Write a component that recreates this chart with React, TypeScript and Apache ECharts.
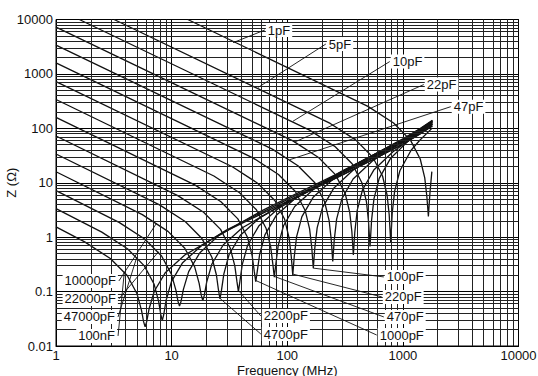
import React, { useEffect, useRef } from "react";
import * as echarts from "echarts";

type Pt = [number, number];

// axis ticks
const xTickValues = [1, 10, 100, 1000, 10000];
const yTickValues = [0.01, 0.1, 1, 10, 100, 1000, 10000];
const xMinorGrid = [2, 3, 4, 5, 6, 7, 8, 9, 20, 30, 40, 50, 60, 70, 80, 90, 200, 300, 400, 500, 600, 700, 800, 900, 2000, 3000, 4000, 5000, 6000, 7000, 8000, 9000];
const yMinorGrid = [0.02, 0.03, 0.04, 0.05, 0.06, 0.07, 0.08, 0.09, 0.2, 0.3, 0.4, 0.5, 0.6, 0.7, 0.8, 0.9, 2, 3, 4, 5, 6, 7, 8, 9, 20, 30, 40, 50, 60, 70, 80, 90, 200, 300, 400, 500, 600, 700, 800, 900, 2000, 3000, 4000, 5000, 6000, 7000, 8000, 9000];

// curves: [frequency MHz, |Z| ohm]
const c100nF: Pt[] = [[1, 1.55], [1.77, 0.819], [2.95, 0.405], [4.13, 0.197], [5.02, 0.091], [5.49, 0.0453], [5.72, 0.028], [5.9, 0.0226], [6.08, 0.0277], [6.37, 0.0473], [7.08, 0.1015], [8.85, 0.225], [13, 0.471], [30, 1.32], [100, 4.56], [300, 14.0], [600, 29.1], [1000, 51.2], [1400, 78.1], [1800, 111]];
const c47000pF: Pt[] = [[1, 3.34], [2.49, 1.24], [4.15, 0.612], [5.81, 0.297], [7.06, 0.136], [7.72, 0.066], [8.05, 0.0384], [8.3, 0.0292], [8.55, 0.0379], [8.96, 0.0693], [9.96, 0.152], [12.45, 0.34], [18.3, 0.712], [30, 1.36], [100, 4.88], [300, 15.0], [600, 31.3], [1000, 55.0], [1400, 83.9], [1800, 119]];
const c22000pF: Pt[] = [[1, 7.18], [3.51, 1.87], [5.85, 0.927], [8.19, 0.45], [9.95, 0.209], [10.9, 0.105], [11.35, 0.0661], [11.7, 0.0544], [12.05, 0.0655], [12.64, 0.11], [14.04, 0.233], [17.55, 0.518], [25.7, 1.08], [60, 3.05], [100, 5.21], [300, 16.2], [600, 33.6], [1000, 59.2], [1400, 90.3], [1800, 128]];
const c10000pF: Pt[] = [[1, 15.9], [5.58, 2.6], [9.3, 1.28], [13.0, 0.624], [15.8, 0.288], [17.3, 0.142], [18.04, 0.0859], [18.6, 0.0683], [19.16, 0.085], [20.1, 0.149], [22.3, 0.321], [27.9, 0.717], [40.9, 1.49], [100, 4.44], [300, 14.0], [600, 29.3], [1000, 51.5], [1400, 78.6], [1800, 112]];
const c4700pF: Pt[] = [[1, 33.8], [7.86, 3.92], [13.1, 1.94], [18.3, 0.942], [22.3, 0.428], [24.4, 0.202], [25.4, 0.108], [26.2, 0.0733], [27.0, 0.106], [28.3, 0.212], [31.4, 0.48], [39.3, 1.08], [57.6, 2.26], [150, 7.17], [300, 15.0], [600, 31.4], [1000, 55.2], [1400, 84.2], [1800, 120]];
const c2200pF: Pt[] = [[1, 72.3], [11.3, 5.81], [18.9, 2.87], [26.5, 1.39], [32.1, 0.633], [35.2, 0.296], [36.7, 0.154], [37.8, 0.0999], [38.9, 0.151], [40.8, 0.312], [45.4, 0.709], [56.7, 1.6], [83.2, 3.34], [200, 9.77], [300, 15.3], [600, 32.1], [1000, 56.7], [1400, 86.5], [1800, 123]];
const c1000pF: Pt[] = [[1, 159], [16.0, 9.04], [26.7, 4.47], [37.4, 2.17], [45.4, 0.985], [49.7, 0.459], [51.8, 0.237], [53.4, 0.153], [55.0, 0.233], [57.7, 0.484], [64.1, 1.1], [80.1, 2.49], [117.5, 5.2], [300, 16.5], [600, 35.2], [1000, 62.3], [1400, 95.3], [1800, 136]];
const c470pF: Pt[] = [[1, 339], [23.2, 13.3], [38.7, 6.57], [54.1, 3.19], [65.7, 1.44], [71.9, 0.663], [75.0, 0.324], [77.3, 0.184], [79.6, 0.318], [83.5, 0.7], [92.8, 1.62], [116, 3.66], [170, 7.65], [300, 16.2], [600, 35.4], [1000, 63.1], [1400, 96.5], [1800, 138]];
const c220pF: Pt[] = [[1, 723], [33.5, 19.7], [55.8, 9.72], [78.1, 4.72], [94.9, 2.13], [103.8, 0.963], [108.3, 0.444], [111.6, 0.203], [114.9, 0.433], [120.5, 1.02], [133.9, 2.39], [167.4, 5.4], [245.5, 11.3], [400, 22.3], [600, 35.6], [1000, 64.2], [1400, 98.5], [1800, 141]];
const c100pF: Pt[] = [[1, 1590], [50.4, 28.7], [84, 14.2], [117.6, 6.9], [142.8, 3.1], [156.2, 1.4], [163, 0.637], [168, 0.269], [173, 0.621], [181.4, 1.48], [201.6, 3.48], [252, 7.9], [370, 17.0], [600, 33.0], [1000, 61.3], [1400, 94.9], [1800, 136]];
const c47pF: Pt[] = [[1, 3386], [74.3, 41.5], [123.8, 20.5], [173.3, 9.97], [210.4, 4.48], [230.2, 2.02], [240.1, 0.906], [247.5, 0.356], [254.9, 0.883], [267.3, 2.14], [297, 5.12], [371, 11.7], [545, 25.2], [1000, 58.1], [1400, 91.5], [1800, 132]];
const c22pF: Pt[] = [[1, 7234], [111.9, 58.8], [186.5, 29.1], [261, 14.1], [317, 6.35], [347, 2.86], [362, 1.27], [373, 0.473], [384, 1.24], [403, 3.15], [448, 7.43], [560, 17.1], [821, 37.2], [1000, 50.2], [1400, 82.5], [1800, 121]];
const c10pF: Pt[] = [[1.59, 10000], [156, 92.8], [260, 45.9], [364, 22.3], [442, 10.0], [484, 4.5], [504, 1.98], [520, 0.672], [536, 2.03], [562, 5.05], [624, 12.0], [780, 27.8], [1144, 62.0], [1400, 86.7], [1800, 131]];
const c5pF: Pt[] = [[3.18, 10000], [235.5, 123], [392.5, 60.8], [549.5, 29.5], [667, 13.3], [730, 5.95], [761.5, 2.59], [785, 0.796], [808.6, 2.75], [848, 6.93], [942, 16.6], [1178, 39.5], [1400, 60.5], [1800, 102]];
const c1pF: Pt[] = [[13.8, 10000], [498.6, 253], [831, 125], [1163, 60.7], [1413, 27.3], [1546, 12.3], [1612, 5.6], [1662, 2.4], [1712, 6.2], [1780, 16]];

const curveNames = ["100nF", "47000pF", "22000pF", "10000pF", "4700pF", "2200pF", "1000pF", "470pF", "220pF", "100pF", "47pF", "22pF", "10pF", "5pF", "1pF"];
const curveData = [c100nF, c47000pF, c22000pF, c10000pF, c4700pF, c2200pF, c1000pF, c470pF, c220pF, c100pF, c47pF, c22pF, c10pF, c5pF, c1pF];

// callout labels: anchor = where leader meets the label, tip = point on curve
const labelTexts = ["1pF", "5pF", "10pF", "22pF", "47pF", "100pF", "220pF", "470pF", "1000pF", "2200pF", "4700pF", "10000pF", "22000pF", "47000pF", "100nF"];
const labelAnchors: Pt[] = [[64, 6410], [215.6, 3540], [770, 1687], [1516, 637], [2594, 250], [684, 0.186], [657, 0.0798], [684, 0.0342], [594, 0.0159], [59.1, 0.0356], [59.1, 0.0166], [3.5, 0.157], [3.5, 0.0733], [3.44, 0.0342], [3.44, 0.0153]];
const labelTips: Pt[] = [[34, 3750], [56, 565], [112, 135], [116, 56], [105, 26.5], [168, 0.27], [111.6, 0.21], [77.3, 0.19], [53.4, 0.16], [37.8, 0.105], [26.2, 0.075], [7.4, 1.8], [7.7, 0.54], [5.0, 0.43], [3.9, 0.23]];
const labelSides = ["right", "right", "right", "right", "right", "right", "right", "right", "right", "right", "right", "left", "left", "left", "left"];

const FONT = '"Liberation Sans", Arial, Helvetica, sans-serif';
const INK = "#111";

export default function App() {
  const ref = useRef<HTMLDivElement>(null);
  useEffect(() => {
    if (!ref.current) return;
    const chart = echarts.init(ref.current, null, { renderer: "svg" });
    const fmt = (v: number) => String(Number(Number(v).toPrecision(6)));

    const gridSeries = {
      type: "line",
      name: "grid",
      data: [],
      z: 1,
      silent: true,
      markLine: {
        silent: true,
        symbol: ["none", "none"],
        label: { show: false },
        animation: false,
        lineStyle: { color: "#222", width: 1, type: "solid" },
        emphasis: { disabled: true },
        data: [
          ...xMinorGrid.map((v) => ({ xAxis: v })),
          ...yMinorGrid.map((v) => ({ yAxis: v })),
        ],
      },
    };

    const curveSeries = curveData.map((d, i) => ({
      type: "line",
      name: curveNames[i],
      data: d,
      z: 3,
      showSymbol: false,
      symbol: "none",
      smooth: false,
      silent: true,
      lineStyle: { color: INK, width: 1.3 },
    }));

    chart.setOption({
      animation: false,
      backgroundColor: "#fff",
      grid: {
        left: 56, right: 19.5, top: 19.5, bottom: 30,
        containLabel: false, outerBoundsMode: "none",
        show: true, borderColor: "#000", borderWidth: 1, backgroundColor: "transparent",
      },
      xAxis: {
        type: "log",
        logBase: 10,
        min: xTickValues[0],
        max: xTickValues[xTickValues.length - 1],
        splitNumber: xTickValues.length - 1,
        axisLine: { show: true, lineStyle: { color: "#000", width: 1 } },
        axisTick: { show: false },
        axisLabel: { color: INK, fontSize: 13, fontFamily: FONT, margin: 3, formatter: fmt },
        splitLine: { show: true, lineStyle: { color: "#000", width: 1 } },
        name: "Frequency (MHz)",
        nameLocation: "middle",
        nameGap: 17.5,
        nameMoveOverlap: false,
        nameTextStyle: { color: INK, fontSize: 13, fontFamily: FONT },
      },
      yAxis: {
        type: "log",
        logBase: 10,
        min: yTickValues[0],
        max: yTickValues[yTickValues.length - 1],
        splitNumber: yTickValues.length - 1,
        axisLine: { show: true, lineStyle: { color: "#000", width: 1 } },
        axisTick: { show: false },
        axisLabel: { color: INK, fontSize: 13, fontFamily: FONT, margin: 3, formatter: fmt },
        splitLine: { show: true, lineStyle: { color: "#000", width: 1 } },
        name: "Z (Ω)",
        nameLocation: "middle",
        nameGap: 38,
        nameMoveOverlap: false,
        nameTextStyle: { color: INK, fontSize: 13, fontFamily: FONT },
      },
      series: [gridSeries, ...curveSeries],
    });

    const px = (p: number[]) => chart.convertToPixel({ gridIndex: 0 }, p) as number[];
    const graphics: any[] = [];
    labelTexts.forEach((t, i) => {
      const A = px(labelAnchors[i]);
      const T = px(labelTips[i]);
      const right = labelSides[i] === "right";
      graphics.push({
        type: "line",
        z: 50,
        silent: true,
        shape: { x1: A[0], y1: A[1], x2: T[0], y2: T[1] },
        style: { stroke: INK, lineWidth: 0.9 },
      });
      graphics.push({
        type: "text",
        z: 60,
        silent: true,
        x: A[0] + (right ? 1 : -1),
        y: A[1],
        style: {
          text: t,
          fill: INK,
          font: `13px ${FONT}`,
          align: right ? "left" : "right",
          verticalAlign: "middle",
          backgroundColor: "#fff",
          padding: [1, 2, 0, 2],
        },
      });
    });
    chart.setOption({ graphic: graphics });

    return () => chart.dispose();
  }, []);

  return (
    <div
      ref={ref}
      style={{ position: "fixed", left: 0, top: 0, width: 538, height: 376, background: "#fff" }}
    />
  );
}
